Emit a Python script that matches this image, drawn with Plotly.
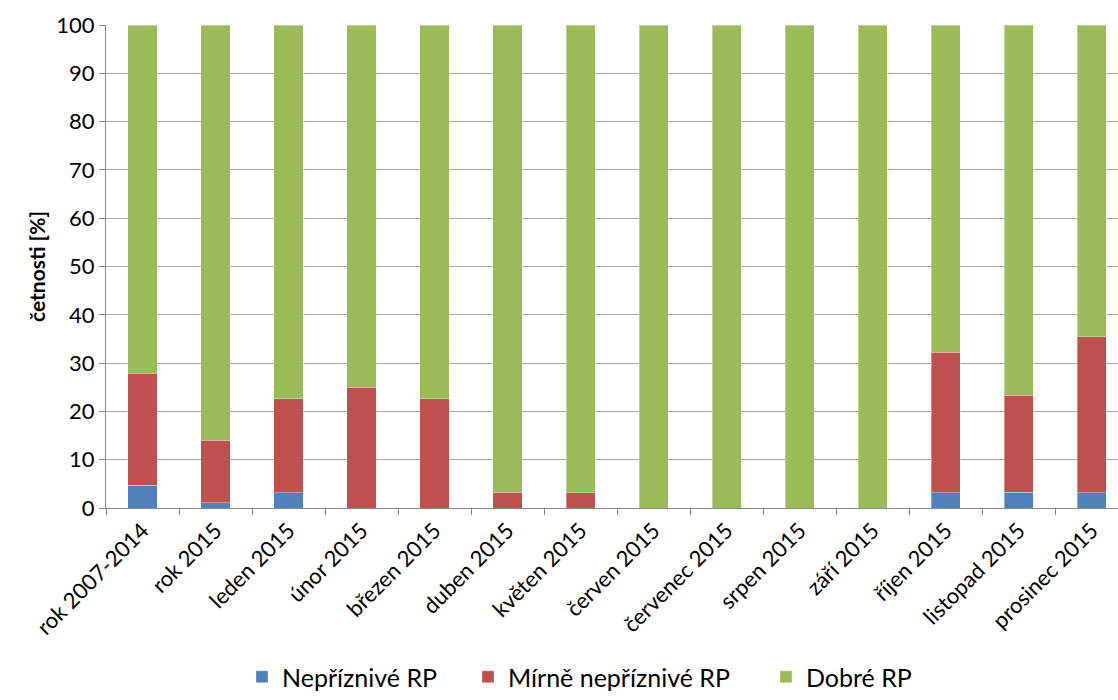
import plotly.graph_objects as go

categories = ["rok 2007-2014", "rok 2015", "leden 2015", "únor 2015", "březen 2015",
              "duben 2015", "květen 2015", "červen 2015", "červenec 2015", "srpen 2015",
              "září 2015", "říjen 2015", "listopad 2015", "prosinec 2015"]
nepriznive = [4.7, 1.1, 3.2, 0.0, 0.0, 0.0, 0.0, 0.0, 0.0, 0.0, 0.0, 3.2, 3.3, 3.2]
mirne = [23.1, 12.9, 19.4, 25.0, 22.6, 3.3, 3.2, 0.0, 0.0, 0.0, 0.0, 29.0, 20.0, 32.3]
dobre = [round(100 - a - b, 1) for a, b in zip(nepriznive, mirne)]

series = [("Nepříznivé RP", nepriznive, "#4F81BD", "legend", 242),
          ("Mírně nepříznivé RP", mirne, "#C0504D", "legend2", 468),
          ("Dobré RP", dobre, "#9BBB59", "legend3", 766)]

FONT = "Lato, Open Sans, sans-serif"

fig = go.Figure()
legends = {}
for name, vals, col, lg, lx in series:
    fig.add_trace(go.Bar(x=categories, y=vals, name=name, marker_color=col, legend=lg,
                         marker_line=dict(color="rgba(255,255,255,0.35)", width=1), width=0.4))
    legends[lg] = dict(orientation="h", xref="container", yref="container",
                       x=lx / 1118, xanchor="left", y=-0.018, yanchor="bottom",
                       font=dict(size=25, family=FONT), bgcolor="rgba(0,0,0,0)")

fig.update_layout(
    barmode="stack",
    width=1118, height=700,
    margin=dict(l=106, r=0, t=25, b=192),
    paper_bgcolor="white", plot_bgcolor="white",
    font=dict(family=FONT, size=22, color="#000000"),
    showlegend=True,
    **legends,
)
fig.update_xaxes(range=[-0.5, 13.36], tickangle=-45, tickson="boundaries", ticks="outside",
                 ticklen=6, tickcolor="#868686", showline=True, linecolor="#868686",
                 linewidth=1, showgrid=False, tickfont=dict(size=22), automargin=False)
fig.update_yaxes(range=[0, 100], dtick=10, ticks="outside", ticklen=6, tickcolor="#868686",
                 showline=True, linecolor="#868686", gridcolor="#A6A6A6", gridwidth=1,
                 tickfont=dict(size=22), automargin=False,
                 title=dict(text="<b>četnosti [%]</b>", font=dict(size=21), standoff=4))
fig.write_html("out.html")
